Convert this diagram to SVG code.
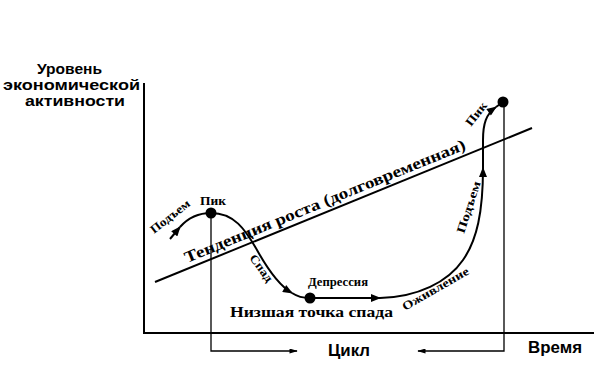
<svg xmlns="http://www.w3.org/2000/svg" width="596" height="369" viewBox="0 0 596 369">
<defs>
<style>
.ln{fill:none;stroke:#000;stroke-width:2}
.thin{fill:none;stroke:#000;stroke-width:1.3}
.sans{font-family:"Liberation Sans",Arial,sans-serif;font-weight:bold;fill:#000}
.ser{font-family:"Liberation Serif","Times New Roman",serif;font-weight:bold;fill:#000}
.dot{fill:#000}
</style>
<marker id="ah" viewBox="0 0 10 8" refX="9" refY="4" markerWidth="11" markerHeight="8" markerUnits="userSpaceOnUse" orient="auto"><path d="M0,0 L10,4 L0,8 Z"/></marker>
<marker id="sa" viewBox="0 0 10 6" refX="9" refY="3" markerWidth="10" markerHeight="5" markerUnits="userSpaceOnUse" orient="auto"><path d="M0,0 L10,3 L0,6 Z"/></marker>
</defs>
<rect width="596" height="369" fill="#fff"/>

<g id="axes">
<path class="ln" d="M144,83 L144,333 L594,333"/>
<text class="sans" x="37" y="74" font-size="14" textLength="65" lengthAdjust="spacingAndGlyphs">Уровень</text>
<text class="sans" x="3" y="90" font-size="14" textLength="137" lengthAdjust="spacingAndGlyphs">экономической</text>
<text class="sans" x="25" y="106" font-size="14" textLength="100" lengthAdjust="spacingAndGlyphs">активности</text>
<text class="sans" x="528" y="353" font-size="16" textLength="54" lengthAdjust="spacingAndGlyphs">Время</text>
</g>

<g id="trend">
<path class="ln" d="M155,282 L532,128"/>
<text class="ser" font-size="16" transform="translate(187,263) rotate(-22.2)" textLength="302" lengthAdjust="spacingAndGlyphs">Тенденция роста (долговременная)</text>
</g>

<g id="cycle">
<path class="thin" d="M211,213 L211,351 L297,351" marker-end="url(#sa)"/>
<path class="thin" d="M504,102 L504,351 L418,351" marker-end="url(#sa)"/>
<text class="sans" x="328" y="356" font-size="17" textLength="42" lengthAdjust="spacingAndGlyphs">Цикл</text>
</g>

<g id="connectors">
<path class="ln" d="M170,239 L180,227" marker-end="url(#ah)"/>
<path class="ln" d="M180,227 C188,218 198,213 211,213"/>
<path class="ln" d="M211,213 C234,213 245,229 257,250 C267,268 278,285 292,293" marker-end="url(#ah)"/>
<path class="ln" d="M292,293 C298,297 303,298 310,298"/>
<path class="ln" d="M310,298 L380,298" marker-end="url(#ah)"/>
<path class="ln" d="M380,298 C418,297 448,282 463,260 C477,240 483,212 483,168" marker-end="url(#ah)"/>
<path class="ln" d="M483,168 L483,140 C483,124 486,114 496,107" marker-end="url(#ah)"/>
<path class="ln" d="M496,107 L503,102"/>
</g>

<g id="peak1">
<circle class="dot" cx="211" cy="213" r="5.5"/>
<text class="ser" x="200" y="205" font-size="12" textLength="26" lengthAdjust="spacingAndGlyphs">Пик</text>
<text class="ser" font-size="12" transform="translate(154,234) rotate(-38)" textLength="47" lengthAdjust="spacingAndGlyphs">Подъем</text>
</g>

<g id="fall">
<text class="ser" font-size="12" transform="translate(249,258) rotate(54)" textLength="31" lengthAdjust="spacingAndGlyphs">Спад</text>
</g>

<g id="trough">
<circle class="dot" cx="310" cy="298" r="5.5"/>
<text class="ser" x="308" y="286" font-size="12" textLength="60" lengthAdjust="spacingAndGlyphs">Депрессия</text>
<text class="ser" x="230" y="317" font-size="15" textLength="163" lengthAdjust="spacingAndGlyphs">Низшая точка спада</text>
</g>

<g id="recovery">
<text class="ser" font-size="12" transform="translate(405,311) rotate(-30)" textLength="75" lengthAdjust="spacingAndGlyphs">Оживление</text>
</g>

<g id="rise">
<text class="ser" font-size="12" transform="translate(464,234) rotate(-72)" textLength="54" lengthAdjust="spacingAndGlyphs">Подъем</text>
</g>

<g id="peak2">
<circle class="dot" cx="503" cy="102" r="5.5"/>
<text class="ser" font-size="12" transform="translate(471,127) rotate(-52)" textLength="27" lengthAdjust="spacingAndGlyphs">Пик</text>
</g>
</svg>
